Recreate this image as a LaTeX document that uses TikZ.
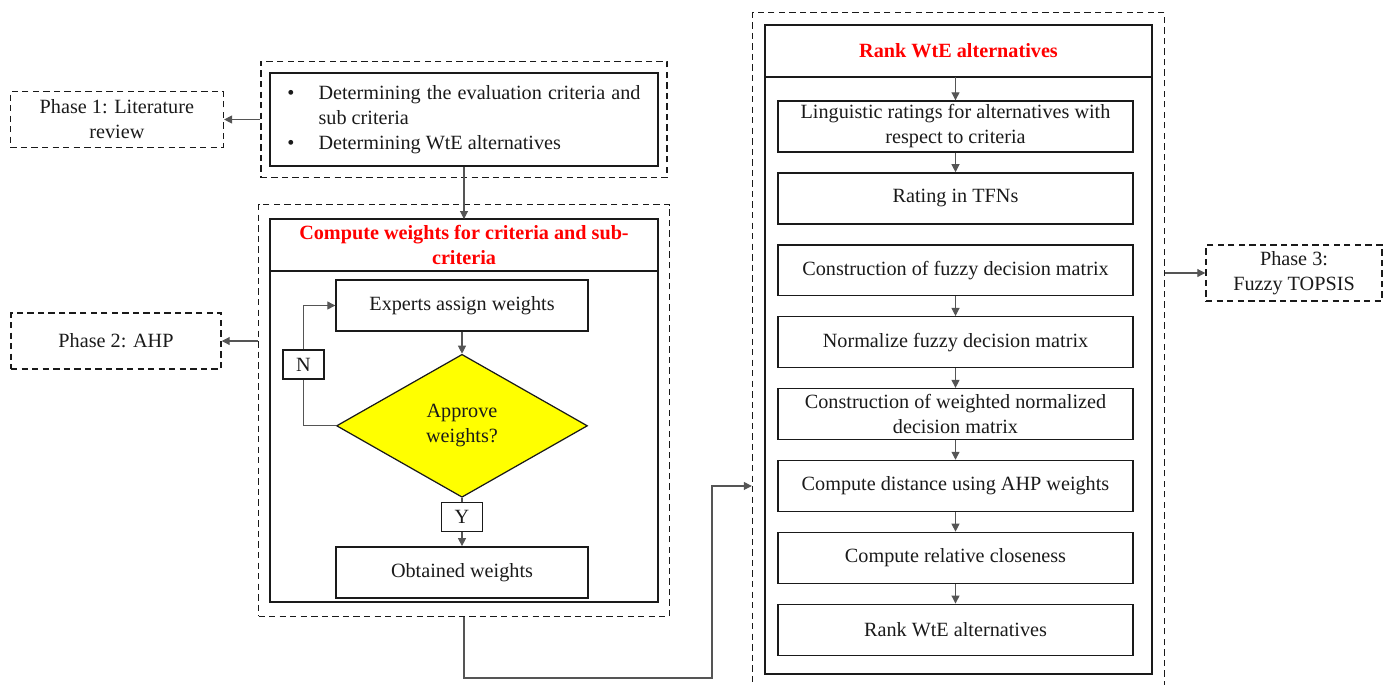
\documentclass[tikz,border=0pt]{standalone}
\usepackage{fontspec}
\setmainfont{Liberation Serif}
\usetikzlibrary{arrows.meta,positioning,calc,shapes.geometric,fit}
\definecolor{Ink}{HTML}{1A1A1A}
\definecolor{Wire}{HTML}{555555}
\definecolor{TitleRed}{HTML}{FF0000}
\definecolor{Decide}{HTML}{FFFF00}
\tikzset{
  stepbox/.style={draw=Ink,line width=0.8pt,minimum height=1.02cm,align=center,text=Ink,inner xsep=4pt,inner ysep=1pt},
  framebox/.style={draw=Ink,line width=0.8pt,outer sep=0pt},
  titlebox/.style={draw=Ink,line width=0.8pt,outer sep=0pt,align=center,text=TitleRed,font=\fontsize{11.5}{14.2}\selectfont\bfseries},
  dashframe/.style={draw=Ink,line width=0.85pt,dash pattern=on 3.6pt off 2.4pt},
  phasebox/.style={dashframe,minimum height=1.12cm,align=center,text=Ink},
  decision/.style={diamond,draw=Ink,line width=0.7pt,fill=Decide,minimum width=5.02cm,minimum height=2.86cm,inner sep=0pt,align=center,text=Ink},
  tagbox/.style={draw=Ink,line width=0.7pt,minimum width=0.82cm,minimum height=0.58cm,text=Ink},
  line/.style={-{Triangle[length=1.6mm,width=1.6mm]},draw=Wire,line width=0.6pt},
  wire/.style={draw=Wire,line width=0.6pt}
}
\begin{document}
\begin{tikzpicture}[x=0.02cm,y=-0.02cm,node distance=0.39cm,font=\fontsize{11.5}{14.2}\selectfont]
  \clip (0,0) rectangle (1391,684);
  % phase 1: literature review
  \node[stepbox,minimum width=7.76cm,minimum height=1.86cm] (lit) at (464,119.5)
    {\begin{tabular}{@{}p{0.2cm}p{6.44cm}@{}}
      \textbullet & Determining the evaluation criteria and sub criteria\\
      \textbullet & Determining WtE alternatives
    \end{tabular}};
  \node[dashframe,fit=(lit),inner xsep=0.17cm,inner ysep=0.22cm] (litframe) {};
  \node[phasebox,minimum width=4.26cm,left=0.72cm of litframe] (phase1) {Phase 1: Literature\\review};

  % phase 2: AHP
  \node[titlebox,minimum width=7.76cm,minimum height=1.04cm] (ahptitle) at (464,245) {Compute weights for criteria and sub-\\criteria};
  \node[framebox,minimum width=7.76cm,minimum height=6.62cm,below=0pt of ahptitle] (ahpbody) {};
  \node[stepbox,minimum width=5.04cm] (experts) at (462,305.5) {Experts assign weights};
  \node[decision,below=0.44cm of experts] (approve) {Approve\\weights?};
  \node[tagbox] (nbox) at (303.5,364.5) {N};
  \node[tagbox,below=0.08cm of approve] (ybox) {Y};
  \node[stepbox,minimum width=5.04cm,below=0.28cm of ybox] (obtained) {Obtained weights};
  \node[dashframe,fit=(ahptitle)(ahpbody),inner xsep=0.23cm,inner ysep=0.29cm] (ahpframe) {};
  \node[phasebox,minimum width=4.2cm] (phase2) at (116,341) {Phase 2: AHP};

  % phase 3: fuzzy TOPSIS
  \node[titlebox,minimum width=7.74cm,minimum height=1.04cm] (ranktitle) at (958.5,51) {Rank WtE alternatives};
  \node[framebox,minimum width=7.74cm,minimum height=11.94cm,below=0pt of ranktitle] (rankbody) {};
  \node[stepbox,minimum width=7.1cm] (s1) at (955.5,126.5) {Linguistic ratings for alternatives with\\respect to criteria};
  \node[stepbox,minimum width=7.1cm,below=of s1] (s2) {Rating in TFNs};
  \node[stepbox,minimum width=7.1cm,below=of s2] (s3) {Construction of fuzzy decision matrix};
  \node[stepbox,minimum width=7.1cm,below=of s3] (s4) {Normalize fuzzy decision matrix};
  \node[stepbox,minimum width=7.1cm,below=of s4] (s5) {Construction of weighted normalized\\decision matrix};
  \node[stepbox,minimum width=7.1cm,below=of s5] (s6) {Compute distance using AHP weights};
  \node[stepbox,minimum width=7.1cm,below=of s6] (s7) {Compute relative closeness};
  \node[stepbox,minimum width=7.1cm,below=of s7] (s8) {Rank WtE alternatives};
  \node[dashframe,fit=(ranktitle)(rankbody),inner sep=0.25cm] (rankframe) {};
  \node[phasebox,minimum width=3.52cm] (phase3) at (1294,273) {Phase 3:\\Fuzzy TOPSIS};

  % connectors
  \draw[line] (litframe.west) -- (phase1.east);
  \draw[line] (lit.south) -- (ahptitle.north);
  \draw[line] (phase2.east -| ahpframe.west) -- (phase2.east);
  \draw[line] (experts) -- (approve);
  \draw[wire] (approve.west) -| (nbox.south);
  \draw[line] (nbox.north) |- (experts.west);
  \draw[wire] (approve.south) -- (ybox.north);
  \draw[line] (ybox.south) -- (obtained.north);
  \coordinate (jog) at (712,678);
  \draw[line] (ahpframe.south) |- (jog) |- (s6.west -| rankframe.west);
  \draw[line] (s1.north |- ranktitle.south) -- (s1.north);
  \draw[line] (s1) -- (s2);
  \draw[line] (s3) -- (s4);
  \draw[line] (s4) -- (s5);
  \draw[line] (s5) -- (s6);
  \draw[line] (s6) -- (s7);
  \draw[line] (s7) -- (s8);
  \draw[line] (phase3.west -| rankframe.east) -- (phase3.west);
\end{tikzpicture}
\end{document}
